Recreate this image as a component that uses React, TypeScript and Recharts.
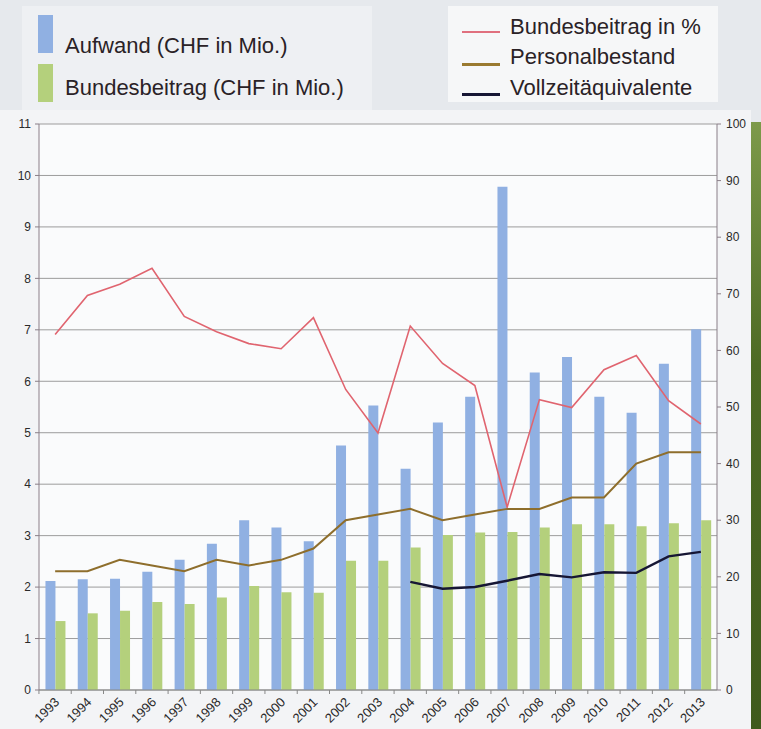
import React from "react";
import {
  ComposedChart,
  Bar,
  Line,
  XAxis,
  YAxis,
  CartesianGrid,
} from "recharts";

// Jahre 1993–2013
const years = [
  "1993", "1994", "1995", "1996", "1997", "1998", "1999", "2000", "2001", "2002", "2003",
  "2004", "2005", "2006", "2007", "2008", "2009", "2010", "2011", "2012", "2013",
];

// linke Achse, CHF in Mio.
const aufwand = [
  2.12, 2.15, 2.16, 2.3, 2.53, 2.84, 3.3, 3.16, 2.89, 4.75, 5.53,
  4.3, 5.2, 5.7, 9.78, 6.17, 6.47, 5.7, 5.39, 6.34, 7.01,
];
const bundesbeitragChf = [
  1.34, 1.49, 1.54, 1.71, 1.67, 1.8, 2.02, 1.9, 1.89, 2.51, 2.51,
  2.77, 3.01, 3.06, 3.07, 3.16, 3.22, 3.22, 3.18, 3.24, 3.3,
];

// rechte Achse
const bundesbeitragPct = [
  62.8, 69.7, 71.7, 74.5, 66.0, 63.3, 61.2, 60.3, 65.8, 53.1, 45.4,
  64.3, 57.7, 53.8, 32.3, 51.3, 49.9, 56.6, 59.1, 51.1, 47.0,
];
const personalbestand = [
  21, 21, 23, 22, 21, 23, 22, 23, 25, 30, 31,
  32, 30, 31, 32, 32, 34, 34, 40, 42, 42,
];
const vollzeit = [
  null, null, null, null, null, null, null, null, null, null, null,
  19.1, 17.9, 18.2, 19.3, 20.5, 19.9, 20.8, 20.7, 23.6, 24.4,
];

const leftTicks = [0, 1, 2, 3, 4, 5, 6, 7, 8, 9, 10, 11];
const rightTicks = [0, 10, 20, 30, 40, 50, 60, 70, 80, 90, 100];

const data = years.map((year, i) => ({
  year,
  aufwand: aufwand[i],
  bundesbeitragChf: bundesbeitragChf[i],
  bundesbeitragPct: bundesbeitragPct[i],
  personalbestand: personalbestand[i],
  vollzeit: vollzeit[i],
}));

const FONT = "'Liberation Sans', Arial, Helvetica, sans-serif";

// Jahreszahlen schräg, Tickstrich an der Kategoriengrenze
const YearTick = (props: any) => {
  const { x, y, payload } = props;
  return (
    <g>
      <line x1={x - 16.2} x2={x - 16.2} y1={y} y2={y + 4} stroke="#888" />
      <text
        transform={`translate(${x + 5},${y + 13}) rotate(-45)`}
        textAnchor="end"
        fontSize={13}
        fontFamily={FONT}
        fill="#2a2a2a"
      >
        {payload.value}
      </text>
    </g>
  );
};

const legendText: React.CSSProperties = {
  position: "absolute",
  fontFamily: FONT,
  fontSize: 22,
  color: "#2a2226",
  whiteSpace: "nowrap",
  lineHeight: "22px",
};

export default function App() {
  return (
    <div
      style={{
        position: "absolute",
        left: 0,
        top: 0,
        width: 761,
        height: 729,
        background: "#e6e9ed",
        overflow: "hidden",
      }}
    >
      {/* heller Hintergrund unter dem Diagramm */}
      <div style={{ position: "absolute", left: 0, top: 110, width: 751, height: 619, background: "#f3f4f6" }} />
      {/* grüner Seitenrand */}
      <div
        style={{
          position: "absolute",
          left: 751,
          top: 122,
          width: 10,
          height: 607,
          background: "linear-gradient(180deg, #7d9a4a 0%, #4d6a24 40%, #3f5a1c 100%)",
        }}
      />

      {/* Legenden */}
      <div style={{ position: "absolute", left: 22, top: 6, width: 350, height: 104, background: "#eef0f3" }} />
      <div style={{ position: "absolute", left: 448, top: 6, width: 270, height: 96, background: "#f6f7f8" }} />

      <div style={{ position: "absolute", left: 38, top: 15, width: 15, height: 38, background: "#90b0e2" }} />
      <div style={{ ...legendText, left: 65, top: 35 }}>Aufwand (CHF in Mio.)</div>
      <div style={{ position: "absolute", left: 38, top: 64, width: 15, height: 38, background: "#b4d07c" }} />
      <div style={{ ...legendText, left: 65, top: 77 }}>Bundesbeitrag (CHF in Mio.)</div>

      <div style={{ position: "absolute", left: 462, top: 31, width: 38, height: 2, background: "#e0707e" }} />
      <div style={{ ...legendText, left: 510, top: 16 }}>Bundesbeitrag in %</div>
      <div style={{ position: "absolute", left: 462, top: 63, width: 38, height: 3, background: "#9a7a30" }} />
      <div style={{ ...legendText, left: 510, top: 46 }}>Personalbestand</div>
      <div style={{ position: "absolute", left: 462, top: 93, width: 38, height: 3, background: "#161634" }} />
      <div style={{ ...legendText, left: 510, top: 77 }}>Vollzeitäquivalente</div>

      <div style={{ position: "absolute", left: 0, top: 0 }}>
        <ComposedChart
          width={761}
          height={729}
          data={data}
          margin={{ top: 124, right: 0, bottom: 0, left: 0 }}
          barCategoryGap="20%"
          barGap={0}
        >
          <CartesianGrid
            yAxisId="left"
            vertical={false}
            stroke="#9c9c9c"
            fill="#fafbfc"
            fillOpacity={1}
          />
          <XAxis
            dataKey="year"
            height={39}
            interval={0}
            tick={<YearTick />}
            tickLine={false}
            tickSize={0}
            tickMargin={0}
            axisLine={{ stroke: "#888" }}
          />
          <YAxis
            yAxisId="left"
            orientation="left"
            width={39}
            domain={[0, 11]}
            ticks={leftTicks}
            interval={0}
            tickSize={4}
            tickMargin={4}
            axisLine={{ stroke: "#8a7f88" }}
            tickLine={{ stroke: "#8a7f88" }}
            tick={{ fontSize: 12, fill: "#2a2a2a", fontFamily: FONT }}
          />
          <YAxis
            yAxisId="right"
            orientation="right"
            width={44}
            domain={[0, 100]}
            ticks={rightTicks}
            interval={0}
            tickSize={4}
            tickMargin={5}
            axisLine={{ stroke: "#8a7f88" }}
            tickLine={{ stroke: "#8a7f88" }}
            tick={{ fontSize: 12, fill: "#2a2a2a", fontFamily: FONT }}
          />
          <Bar yAxisId="left" dataKey="aufwand" fill="#90b0e2" isAnimationActive={false} />
          <Bar yAxisId="left" dataKey="bundesbeitragChf" fill="#b4d07c" isAnimationActive={false} />
          <Line
            yAxisId="right"
            type="linear"
            dataKey="bundesbeitragPct"
            stroke="#e0646f"
            strokeWidth={1.6}
            dot={false}
            isAnimationActive={false}
          />
          <Line
            yAxisId="right"
            type="linear"
            dataKey="personalbestand"
            stroke="#8e6e2c"
            strokeWidth={2}
            dot={false}
            isAnimationActive={false}
          />
          <Line
            yAxisId="right"
            type="linear"
            dataKey="vollzeit"
            stroke="#161634"
            strokeWidth={2.4}
            dot={false}
            connectNulls={false}
            isAnimationActive={false}
          />
        </ComposedChart>
      </div>
    </div>
  );
}
